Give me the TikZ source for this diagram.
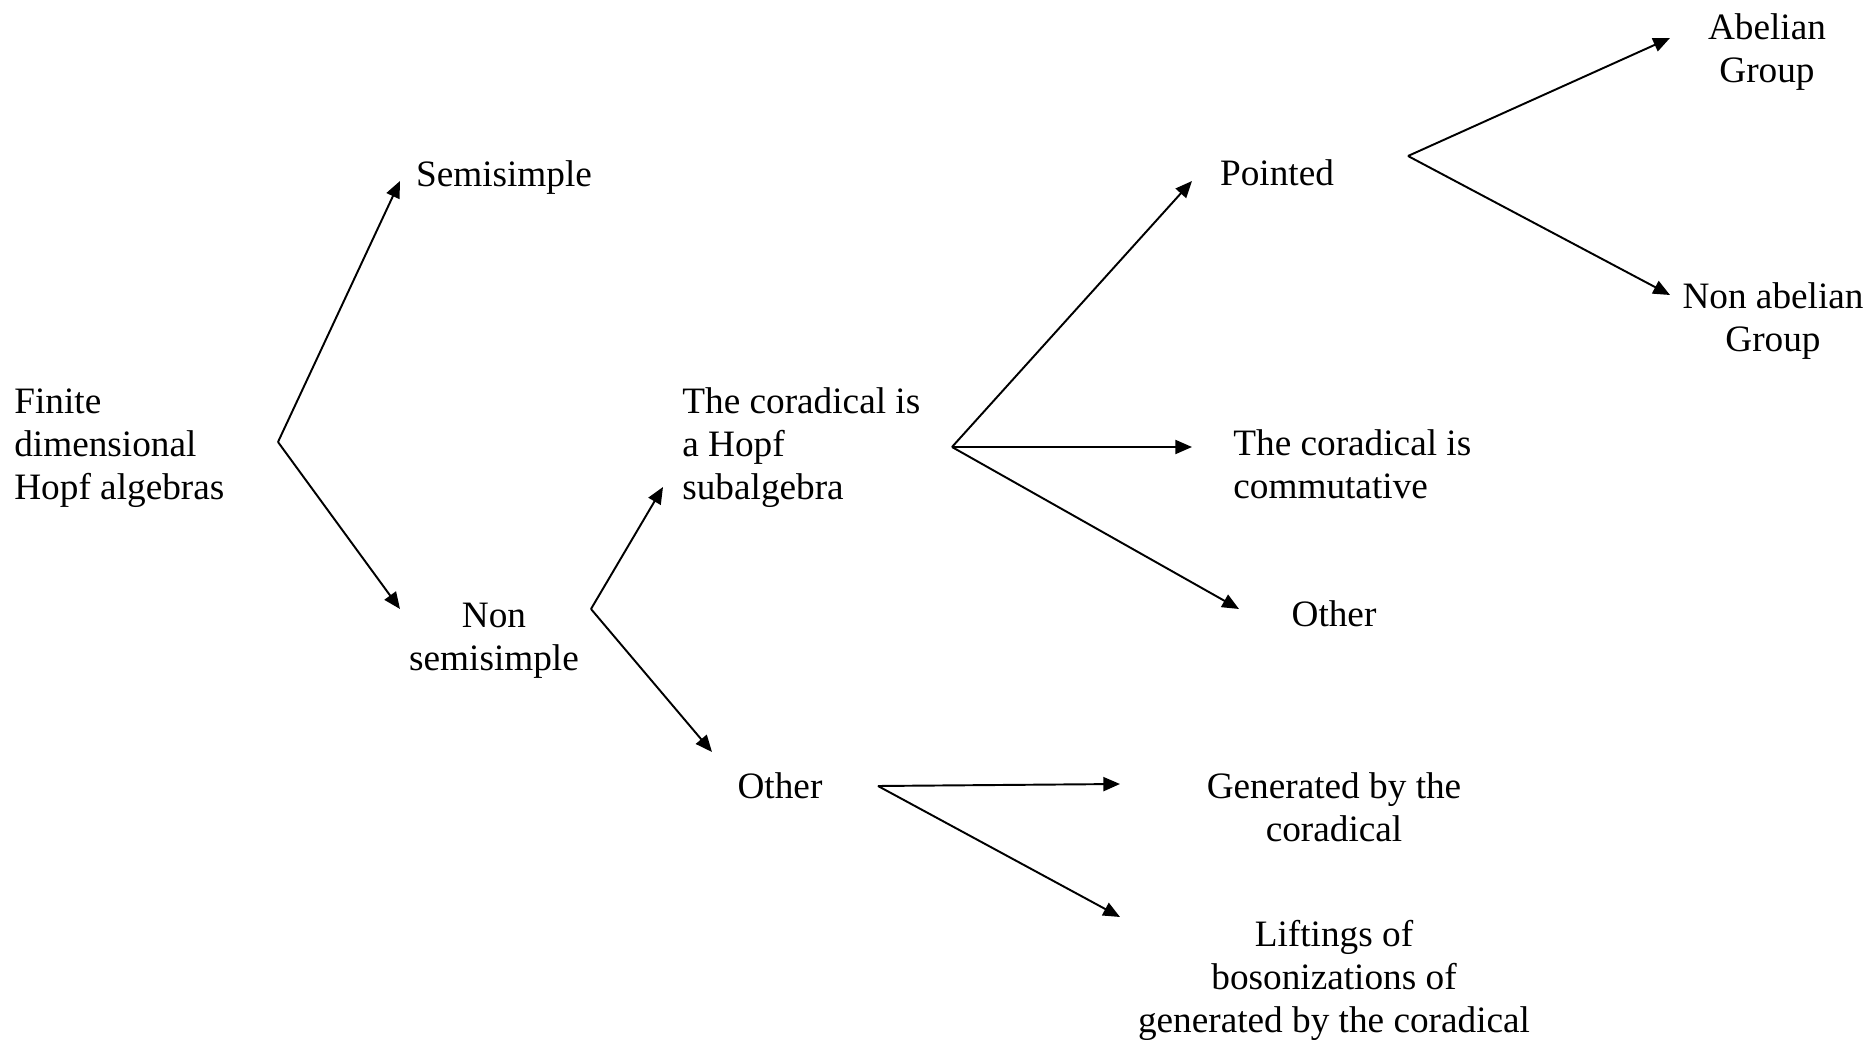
\documentclass[tikz,border=0pt]{standalone}
\usepackage{fontspec}
\setmainfont{Liberation Serif}
\usetikzlibrary{arrows.meta}

\begin{document}
\begin{tikzpicture}[scale=0.2]
\tikzstyle{every node}+=[inner sep=0pt, font=\fontsize{21.2}{24.5}\selectfont]
\tikzstyle{arr}=[black, line width=1.1pt, -{Triangle[length=9.5pt,width=8pt]}]
\useasboundingbox (0,0) rectangle (187.2,-103.9);
\node [anchor=west, align=left] (fin) at (1.4,-44.8) {Finite\\dimensional\\Hopf algebras};
\node (semi) at (50.4,-17.8) {Semisimple};
\node [align=center] (nonsemi) at (49.4,-64.1) {Non\\semisimple};
\node [anchor=west, align=left] (cohopf) at (68.2,-44.8) {The coradical is\\a Hopf\\subalgebra};
\node (otherA) at (78.0,-78.6) {Other};
\node (pointed) at (127.7,-17.3) {Pointed};
\node [anchor=west, align=left] (comm) at (123.3,-46.4) {The coradical is\\commutative};
\node (otherB) at (133.4,-61.4) {Other};
\node [align=center] (abel) at (176.7,-5.25) {Abelian\\Group};
\node [align=center] (nonabel) at (177.3,-32.1) {Non abelian\\Group};
\node [align=center] (gen) at (133.4,-80.75) {Generated by the\\coradical};
\node [align=center] (lift) at (133.4,-98.0) {Liftings of\\bosonizations of\\generated by the coradical};
\coordinate (b1) at (27.8,-44.2);
\coordinate (b2) at (59.1,-60.9);
\coordinate (b3) at (95.2,-44.7);
\coordinate (b4) at (140.8,-15.6);
\coordinate (b5) at (87.8,-78.6);
\coordinate (semi-in) at (40.0,-18.1);
\coordinate (nonsemi-in) at (40.0,-60.9);
\coordinate (cohopf-in) at (66.3,-48.7);
\coordinate (otherA-in) at (71.2,-75.2);
\coordinate (pointed-in) at (119.2,-18.1);
\coordinate (comm-in) at (119.2,-44.7);
\coordinate (otherB-in) at (123.9,-60.9);
\coordinate (abel-in) at (167.0,-3.8);
\coordinate (nonabel-in) at (167.0,-29.5);
\coordinate (gen-in) at (112.0,-78.4);
\coordinate (lift-in) at (112.0,-91.7);
\draw [arr] (b1) -- (semi-in);
\draw [arr] (b1) -- (nonsemi-in);
\draw [arr] (b2) -- (cohopf-in);
\draw [arr] (b2) -- (otherA-in);
\draw [arr] (b3) -- (pointed-in);
\draw [arr] (b3) -- (comm-in);
\draw [arr] (b3) -- (otherB-in);
\draw [arr] (b4) -- (abel-in);
\draw [arr] (b4) -- (nonabel-in);
\draw [arr] (b5) -- (gen-in);
\draw [arr] (b5) -- (lift-in);
\end{tikzpicture}
\end{document}
